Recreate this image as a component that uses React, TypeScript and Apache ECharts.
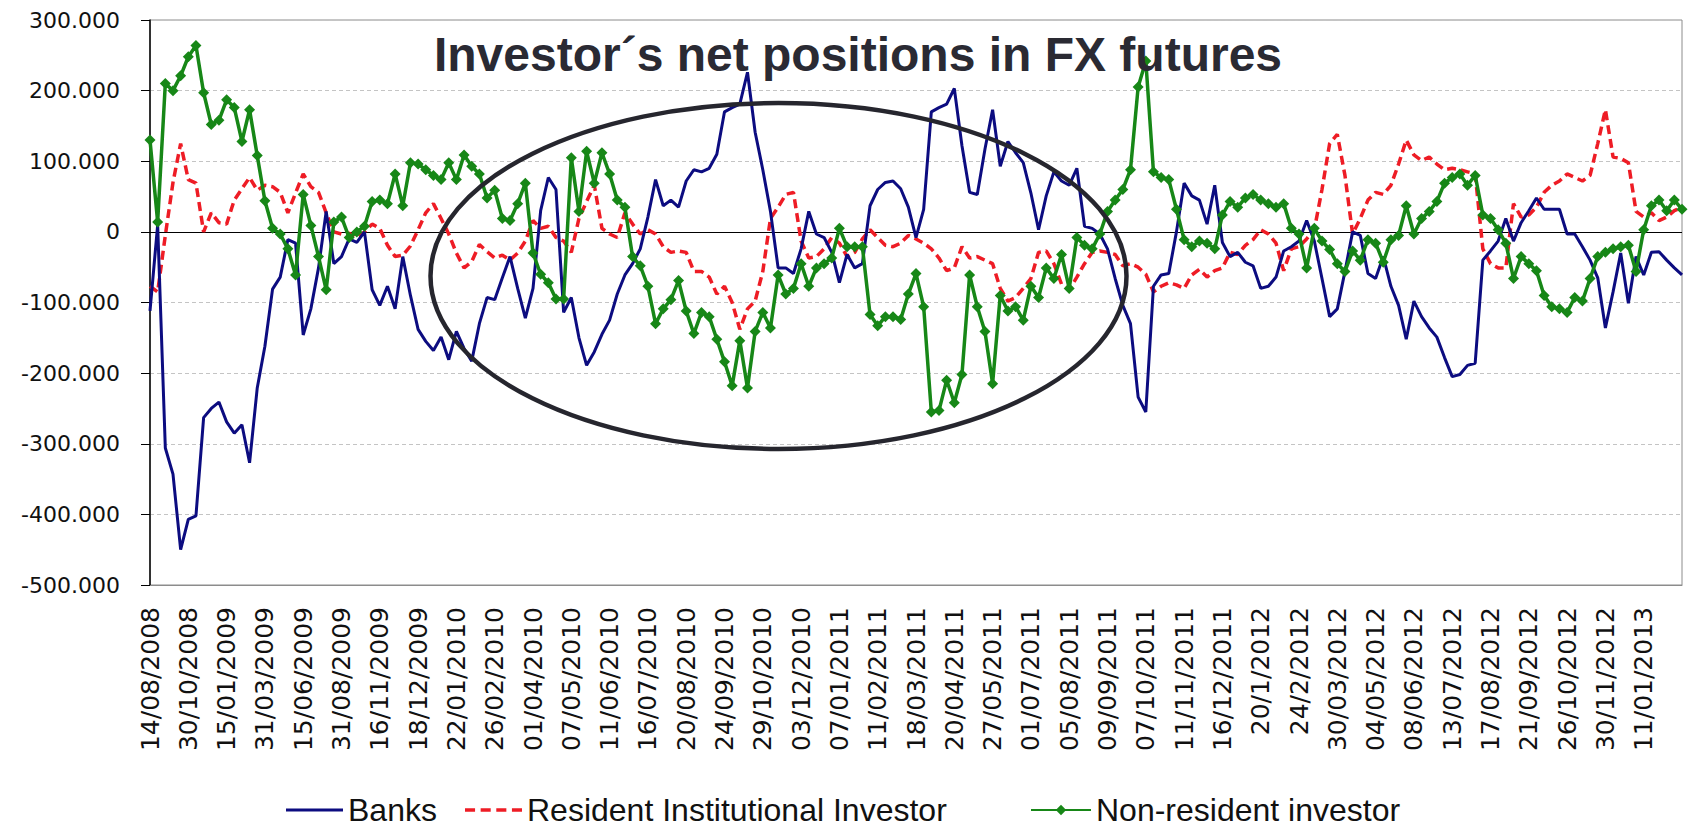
import React, { useEffect, useRef } from "react";
import * as echarts from "echarts";

// Tick labels shown on the category axis (every 5th observation)
const tickLabels = [
  "14/08/2008", "30/10/2008", "15/01/2009", "31/03/2009", "15/06/2009", "31/08/2009",
  "16/11/2009", "18/12/2009", "22/01/2010", "26/02/2010", "01/04/2010", "07/05/2010",
  "11/06/2010", "16/07/2010", "20/08/2010", "24/09/2010", "29/10/2010", "03/12/2010",
  "07/01/2011", "11/02/2011", "18/03/2011", "20/04/2011", "27/05/2011", "01/07/2011",
  "05/08/2011", "09/09/2011", "07/10/2011", "11/11/2011", "16/12/2011", "20/1/2012",
  "24/2/2012", "30/03/2012", "04/05/2012", "08/06/2012", "13/07/2012", "17/08/2012",
  "21/09/2012", "26/10/2012", "30/11/2012", "11/01/2013",
];

// Values in thousands
const banks = [
  -112, 10, -306, -343, -450, -407, -402, -263, -250, -241,
  -269, -285, -273, -327, -221, -162, -81, -64, -11, -16,
  -146, -109, -51, 29, -45, -35, -10, -15, 0, -82,
  -104, -77, -109, -35, -90, -138, -155, -168, -149, -181,
  -141, -165, -183, -130, -93, -96, -65, -35, -80, -122,
  -80, 30, 77, 60, -114, -93, -150, -189, -170, -145,
  -125, -88, -61, -45, -24, 21, 74, 37, 45, 35,
  72, 88, 85, 90, 110, 170, 176, 181, 226, 141,
  88, 29, -51, -51, -59, -24, 29, -3, -8, -29,
  -72, -32, -51, -45, 37, 60, 70, 72, 61, 35,
  -8, 32, 170, 176, 181, 203, 122, 56, 53, 117,
  173, 93, 128, 112, 98, 55, 3, 51, 85, 72,
  66, 90, 8, 5, -3, -24, -66, -104, -130, -234,
  -255, -77, -61, -59, 0, 69, 51, 45, 11, 66,
  -15, -35, -29, -43, -48, -80, -77, -64, -27, -21,
  -13, 16, -13, -66, -120, -109, -56, 0, -5, -59,
  -66, -35, -77, -104, -152, -98, -120, -136, -149, -178,
  -205, -202, -189, -186, -40, -27, -13, 19, -13, 13,
  30, 48, 32, 32, 32, -3, -3, -21, -40, -65,
  -136, -85, -30, -101, -35, -61, -29, -28, -40, -51,
  -61,
];

const resident = [
  -77, -85, -5, 70, 125, 74, 69, 0, 27, 13,
  11, 45, 61, 77, 59, 66, 64, 56, 27, 55,
  82, 64, 56, 27, 0, -3, -2, -8, 0, 11,
  5, -19, -35, -33, -20, 3, 27, 40, 19, -3,
  -30, -51, -42, -18, -28, -37, -33, -40, -30, -13,
  16, 5, 8, -8, -13, -29, 19, 43, 66, 5,
  -3, -8, 27, 11, -3, 3, -3, -21, -29, -27,
  -29, -56, -56, -64, -88, -77, -100, -138, -109, -98,
  -56, 19, 35, 53, 56, -13, -37, -35, -24, -8,
  -16, -35, -29, -10, 3, -8, -19, -21, -16, -5,
  -10, -16, -24, -37, -55, -51, -21, -37, -35, -40,
  -45, -80, -98, -93, -80, -66, -29, -27, -45, -74,
  -82, -64, -45, -29, -27, -29, -32, -48, -45, -50,
  -60, -85, -77, -72, -75, -80, -61, -53, -64, -55,
  -51, -29, -32, -19, -11, 3, -3, -16, -55, -24,
  -21, -10, 3, 60, 125, 138, 80, -3, 19, 45,
  56, 53, 66, 96, 130, 109, 101, 106, 96, 88,
  90, 88, 85, 82, -24, -45, -51, -51, 40, 21,
  24, 35, 56, 66, 72, 82, 77, 72, 80, 125,
  173, 106, 104, 98, 29, 21, 27, 16, 21, 30,
  35,
];

const nonResident = [
  130, 14, 210, 200, 221, 248, 264, 197, 152, 158,
  187, 176, 128, 173, 108, 44, 5, -3, -24, -61,
  53, 9, -35, -82, 14, 21, -8, 0, 8, 43,
  45, 40, 82, 37, 98, 96, 88, 80, 74, 98,
  74, 109, 93, 82, 48, 59, 19, 16, 40, 69,
  -30, -60, -72, -95, -95, 105, 29, 114, 69, 112,
  82, 45, 35, -35, -48, -77, -130, -109, -96, -69,
  -112, -144, -114, -120, -152, -184, -218, -154, -221, -141,
  -114, -136, -61, -88, -80, -45, -77, -51, -45, -37,
  5, -21, -21, -21, -117, -133, -120, -120, -124, -88,
  -59, -106, -255, -253, -210, -242, -202, -61, -106, -141,
  -215, -90, -112, -106, -125, -77, -93, -51, -66, -32,
  -80, -8, -19, -24, -3, 29, 45, 60, 88, 205,
  242, 85, 77, 74, 32, -11, -21, -13, -16, -24,
  24, 43, 35, 48, 53, 45, 40, 35, 40, 5,
  -3, -51, 5, -13, -25, -45, -56, -27, -40, -11,
  -16, -43, -11, -5, 37, -3, 19, 29, 43, 69,
  77, 82, 66, 80, 24, 19, 3, -16, -66, -35,
  -45, -55, -90, -106, -109, -114, -93, -98, -66, -35,
  -29, -24, -21, -19, -56, 3, 37, 45, 30, 45,
  32,
];

const seriesNames = ["Banks", "Resident Institutional Investor", "Non-resident investor"];
const titleText = "Investor\u00b4s net positions in FX futures";

const BLUE = "#0c0c80";
const RED = "#ee1c25";
const GREEN = "#178717";

const DASH_ICON = "path://M0,0H9V3H0Z M14,0H23V3H14Z M28,0H37V3H28Z M42,0H51V3H42Z";

export default function App() {
  const ref = useRef<HTMLDivElement>(null);

  useEffect(() => {
    if (!ref.current) return;
    const chart = echarts.init(ref.current, null, { renderer: "svg" });

    const categories = banks.map((_, i) =>
      i % 5 === 0 && i / 5 < tickLabels.length ? tickLabels[i / 5] : String(i)
    );

    const legendText = {
      fontFamily: "'Liberation Sans', Arial, sans-serif",
      fontSize: 32,
      color: "#111",
    };

    chart.setOption({
      animation: false,
      backgroundColor: "#ffffff",
      grid: {
        left: 150,
        right: 14,
        top: 20,
        bottom: 245,
        show: true,
        borderColor: "#8c8c8c",
        borderWidth: 1,
        containLabel: false,
      },
      xAxis: {
        type: "category",
        data: categories,
        boundaryGap: false,
        axisLine: { onZero: false, lineStyle: { color: "#8c8c8c", width: 1 } },
        axisTick: { show: false },
        splitLine: { show: false },
        axisLabel: {
          interval: (i: number) => i % 5 === 0 && i / 5 < tickLabels.length,
          rotate: 90,
          margin: 22,
          fontFamily: "'DejaVu Sans', sans-serif",
          fontSize: 25,
          color: "#111",
        },
      },
      yAxis: {
        type: "value",
        min: -500,
        max: 300,
        interval: 100,
        axisLine: { show: true, lineStyle: { color: "#000", width: 1.5 } },
        axisTick: { show: true, length: 9, lineStyle: { color: "#000", width: 1 } },
        axisLabel: {
          formatter: (v: number) => (v === 0 ? "0" : `${v}.000`),
          margin: 30,
          fontFamily: "'DejaVu Sans', sans-serif",
          fontSize: 22,
          color: "#111",
        },
        splitLine: { show: true, lineStyle: { color: "#c4c4c4", type: [4, 3], width: 1 } },
      },
      legend: [
        {
          data: [{ name: seriesNames[0], icon: "rect" }],
          left: 281, top: 789, itemWidth: 57, itemHeight: 3, textStyle: legendText,
        },
        {
          data: [{ name: seriesNames[1], icon: DASH_ICON }],
          left: 460, top: 789, itemWidth: 57, itemHeight: 3.5, textStyle: legendText,
        },
        {
          data: [seriesNames[2]],
          left: 1025, top: 789, itemWidth: 60, itemHeight: 13, textStyle: legendText,
        },
      ],
      series: [
        {
          name: seriesNames[1],
          type: "line",
          data: resident,
          symbol: "none",
          lineStyle: { color: RED, width: 3.5, type: [9, 5] },
          itemStyle: { color: RED },
          z: 2,
          markLine: {
            silent: true,
            z: 1,
            symbol: ["none", "none"],
            label: { show: false },
            lineStyle: { color: "#000", width: 1, type: "solid" },
            data: [{ yAxis: 0 }],
          },
        },
        {
          name: seriesNames[0],
          type: "line",
          data: banks,
          symbol: "none",
          lineStyle: { color: BLUE, width: 3 },
          itemStyle: { color: BLUE },
          z: 3,
        },
        {
          name: seriesNames[2],
          type: "line",
          data: nonResident,
          symbol: "diamond",
          symbolSize: 11,
          showSymbol: true,
          showAllSymbol: true,
          lineStyle: { color: GREEN, width: 3.5 },
          itemStyle: { color: GREEN },
          z: 4,
        },
      ],
      graphic: [
        {
          type: "ellipse",
          silent: true,
          z: 10,
          shape: { cx: 778.5, cy: 276, rx: 348, ry: 173 },
          style: { fill: "none", stroke: "#26262e", lineWidth: 4.5 },
        },
        {
          type: "text",
          silent: true,
          z: 11,
          x: 858,
          y: 54,
          style: {
            text: titleText,
            font: "bold 48px 'Liberation Sans', Arial, sans-serif",
            fill: "#2a2a33",
            textAlign: "center",
            textVerticalAlign: "middle",
            align: "center",
            verticalAlign: "middle",
          },
        },
      ],
    });

    return () => chart.dispose();
  }, []);

  return (
    <div
      ref={ref}
      style={{ position: "absolute", left: 0, top: 0, width: 1696, height: 830, background: "#fff" }}
    />
  );
}
